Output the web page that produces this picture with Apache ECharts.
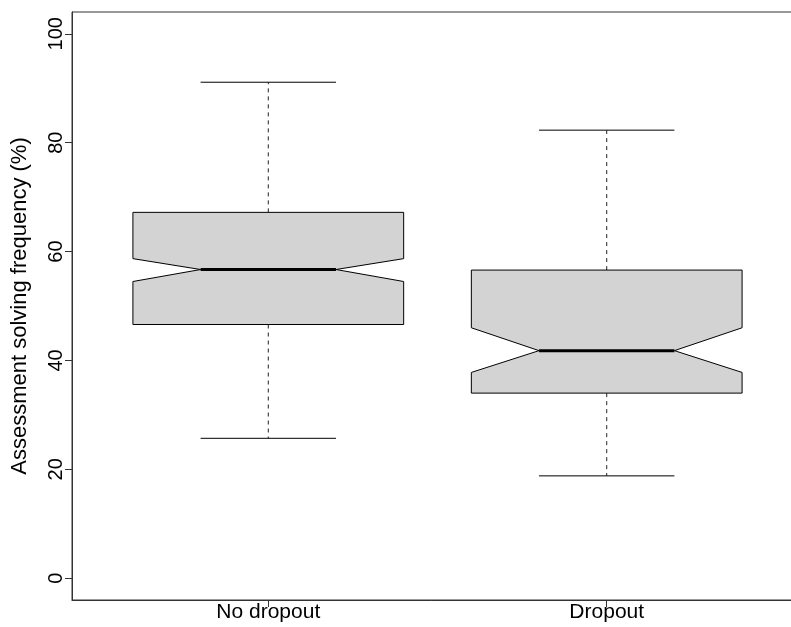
<!DOCTYPE html>
<html>
<head>
<meta charset="utf-8">
<script src="https://cdn.jsdelivr.net/npm/echarts@6/dist/echarts.min.js"></script>
<style>
  html, body { margin: 0; padding: 0; background: #fff; }
  #main { width: 791px; height: 627px; }
</style>
</head>
<body>
<div id="main"></div>
<script>
// box stats
const categories = ['No dropout', 'Dropout'];
const lowerWhisker = [25.7, 18.8];
const q1 = [46.6, 34.0];
const notchLow = [54.5, 37.8];
const median = [56.7, 41.8];
const notchHigh = [58.7, 46.0];
const q3 = [67.2, 56.6];
const upperWhisker = [91.1, 82.3];
const yTicks = [0, 20, 40, 60, 80, 100];

const boxData = categories.map((c, i) => [
  i + 1, lowerWhisker[i], q1[i], notchLow[i], median[i], notchHigh[i], q3[i], upperWhisker[i]
]);

const myChart = echarts.init(document.getElementById('main'));

function renderBox(params, api) {
  const x = api.value(0);
  const v = i => api.value(i);
  const hw = 0.4;
  const p = (dx, y) => api.coord([x + dx, y]);
  const line = { stroke: '#000', lineWidth: 1 };
  const dashed = { stroke: '#222', lineWidth: 1, lineDash: [4, 4] };
  const seg = (dx1, y1, dx2, y2, style) => {
    const a = p(dx1, y1), b = p(dx2, y2);
    return { type: 'line', shape: { x1: a[0], y1: a[1], x2: b[0], y2: b[1] }, style: style };
  };
  return {
    type: 'group',
    children: [
      seg(0, v(6), 0, v(7), dashed),
      seg(0, v(2), 0, v(1), dashed),
      seg(-hw / 2, v(7), hw / 2, v(7), line),
      seg(-hw / 2, v(1), hw / 2, v(1), line),
      {
        type: 'polygon',
        shape: {
          points: [
            p(-hw, v(2)), p(-hw, v(3)), p(-hw / 2, v(4)), p(-hw, v(5)), p(-hw, v(6)),
            p(hw, v(6)), p(hw, v(5)), p(hw / 2, v(4)), p(hw, v(3)), p(hw, v(2))
          ]
        },
        style: { fill: '#d3d3d3', stroke: '#000', lineWidth: 1 }
      },
      seg(-hw / 2, v(4), hw / 2, v(4), { stroke: '#000', lineWidth: 3 })
    ]
  };
}

const option = {
  animation: false,
  textStyle: { fontFamily: 'Liberation Sans, Arial, sans-serif' },
  grid: {
    left: 72, top: 12, width: 731, height: 588,
    outerBoundsMode: 'none',
    containLabel: false,
    show: true, borderColor: '#333', borderWidth: 1, backgroundColor: 'transparent'
  },
  xAxis: {
    type: 'value',
    min: 0.42,
    max: 2.58,
    splitLine: { show: false },
    axisLine: { show: true, onZero: false, lineStyle: { color: '#333' } },
    axisTick: { show: true, customValues: [1, 2], length: 7, lineStyle: { color: '#333' } },
    axisLabel: {
      customValues: [1, 2],
      formatter: val => categories[Math.round(val) - 1] || '',
      color: '#000', fontSize: 21, margin: 2
    }
  },
  yAxis: {
    type: 'value',
    min: -4,
    max: 104,
    name: 'Assessment solving frequency (%)',
    nameLocation: 'middle',
    nameGap: 41,
    nameTextStyle: { color: '#000', fontSize: 22 },
    splitLine: { show: false },
    axisLine: { show: true, onZero: false, lineStyle: { color: '#333' } },
    axisTick: { show: true, customValues: yTicks, length: 7, lineStyle: { color: '#333' } },
    axisLabel: { customValues: yTicks, rotate: 90, color: '#000', fontSize: 20, margin: 6 }
  },
  series: [{
    type: 'custom',
    renderItem: renderBox,
    encode: { x: 0, y: [1, 2, 3, 4, 5, 6, 7] },
    data: boxData
  }]
};

option && myChart.setOption(option);
</script>
</body>
</html>
